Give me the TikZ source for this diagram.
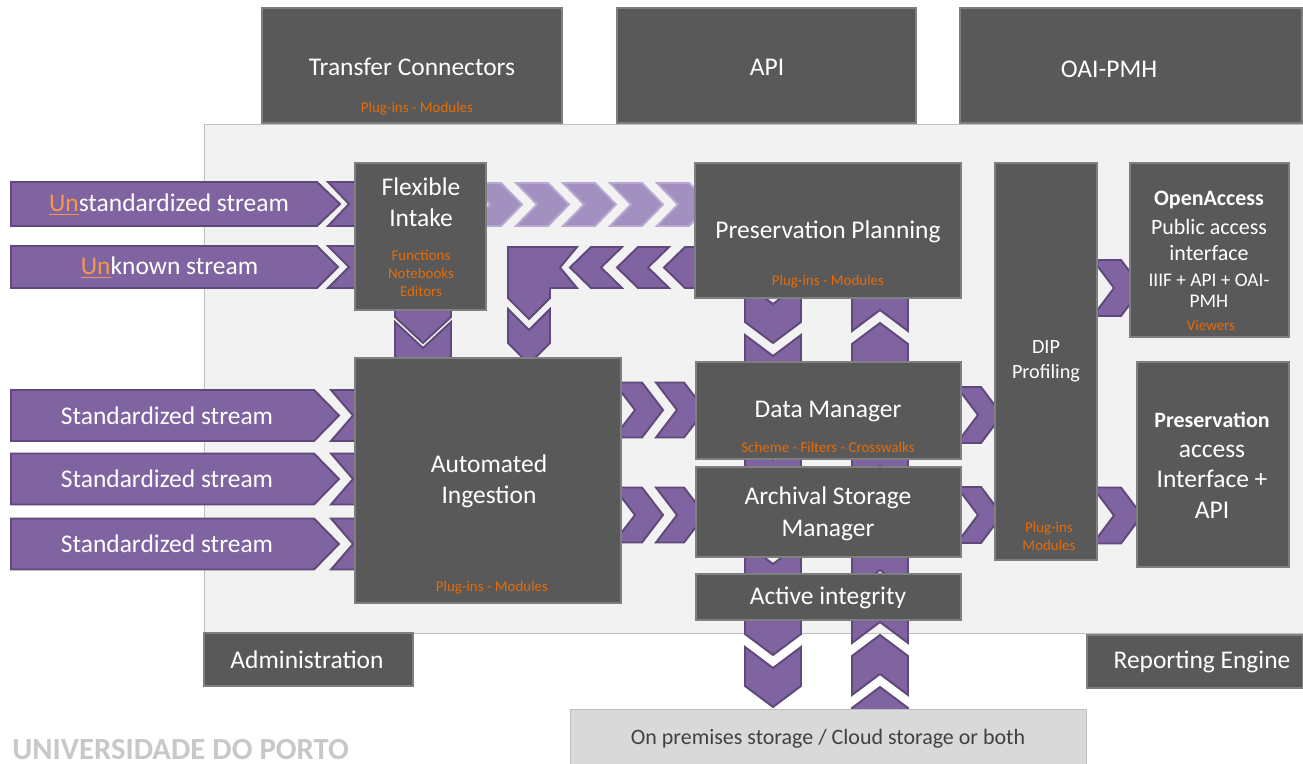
\documentclass[tikz,border=0pt]{standalone}
\usepackage{fontspec}
\setmainfont{Carlito}
\usetikzlibrary{fit}
\definecolor{boxgray}{HTML}{595959}
\definecolor{boxline}{HTML}{7F7F7F}
\definecolor{panelfill}{HTML}{F2F2F2}
\definecolor{panelline}{HTML}{BFBFBF}
\definecolor{purpfill}{HTML}{8064A2}
\definecolor{purpline}{HTML}{5F497A}
\definecolor{lpurpfill}{HTML}{A190C0}
\definecolor{lpurpline}{HTML}{B8A9D2}
\definecolor{orng}{HTML}{E46C0A}
\definecolor{unorng}{HTML}{F79646}
\definecolor{storefill}{HTML}{D9D9D9}
\definecolor{storetext}{HTML}{404040}
\definecolor{uptext}{HTML}{C8C8C8}

\begin{document}
\begin{tikzpicture}[x=0.02cm,y=-0.02cm,
	box/.style={fill=boxgray,draw=boxline,line width=0.7pt,inner sep=0pt},
	lbl/.style={text=white,font=\fontsize{14.5}{17.6}\selectfont,align=center,inner sep=0pt},
	sub/.style={text=orng,font=\fontsize{8.5}{10.2}\selectfont,align=center,inner sep=0pt},
	purp/.style={fill=purpfill,draw=purpline,line width=1.1pt},
	lpurp/.style={fill=lpurpfill,draw=lpurpline,line width=1.1pt},
	pics/chev/.style n args={4}{code={\filldraw[#4] (0,-#1) -- (#3-#2,-#1) -- (#3,0) -- (#3-#2,#1) -- (0,#1) -- (#2,0) -- cycle;}}]

	\useasboundingbox (0,0) rectangle (1303,764);

	\node[fill=panelfill,draw=panelline,line width=0.5pt,inner sep=0pt,fit={(204,124) (1303,633)}] (panel) {};

	\node[box,fit={(262,8) (562,123)}] (tc) {};
	\node[box,fit={(617,8) (916,123)}] (api) {};
	\node[box,fit={(960,8) (1302,123)}] (oai) {};

	% chevrons between the modules
	\foreach \x in {469,516,...,657} \pic at (\x,204.5) {chev={21.5}{21}{53}{lpurp}};
	\foreach \x in {622,669,716} \pic[rotate=180] at (\x,267.5) {chev={20.5}{21}{52}{purp}};
	\filldraw[purp] (508,247) -- (577,247) -- (560,267.5) -- (577,288) -- (550,288) -- (550,298) -- (529,319) -- (508,298) -- cycle;
	\pic[rotate=-90] at (529,309) {chev={21}{21}{55}{purp}};
	\pic[rotate=-90] at (423,280) {chev={28}{26}{63}{purp}};
	\pic[rotate=-90] at (423,322) {chev={28}{26}{60}{purp}};
	\foreach \y in {410,515} \foreach \x in {614,656} \pic at (\x,\y) {chev={27.5}{21}{49}{purp}};
	\foreach \y in {283,335,...,647} \pic[rotate=-90] at (773,\y) {chev={28}{21}{60}{purp}};
	\foreach \y in {331,383,...,747} \pic[rotate=90] at (880,\y) {chev={28}{21}{60}{purp}};
	\foreach \y in {415,515} \pic at (957,\y) {chev={28}{21}{45}{purp}};
	\pic at (1093,288) {chev={28}{21}{49}{purp}};
	\pic at (1093,515.5) {chev={28}{21}{49}{purp}};

	% streams
	\pic at (328,204) {chev={22}{21}{55}{purp}};
	\pic at (328,267) {chev={21}{21}{55}{purp}};
	\filldraw[purp] (11,182) -- (317,182) -- (340,204) -- (317,226) -- (11,226) -- cycle;
	\filldraw[purp] (11,246) -- (317,246) -- (338,267) -- (317,288) -- (11,288) -- cycle;
	\node[lbl] (s1) at (169,205) {{\color{unorng}\underline{Un}}standardized stream};
	\node[lbl] (s2) at (169.5,268) {{\color{unorng}\underline{Un}}known stream};
	\foreach \y/\n in {415.5/s3,479/s4,544/s5} {
		\pic at (331,\y) {chev={25.5}{22}{55}{purp}};
		\filldraw[purp] (11,\y-25.5) -- (314,\y-25.5) -- (339,\y) -- (314,\y+25.5) -- (11,\y+25.5) -- cycle;
		\node[lbl] (\n) at (167,\y) {Standardized stream};
	}

	\node[box,fit={(355,163) (486,310)}] (fi) {};
	\node[box,fit={(695,163) (961,298)}] (pp) {};
	\node[box,fit={(995,163) (1097,560)}] (dip) {};
	\node[box,fit={(1130,163) (1289,337)}] (oa) {};
	\node[box,fit={(355,358) (621,603)}] (ai) {};
	\node[box,fit={(696,362) (961,459)}] (dm) {};
	\node[box,fit={(696,467) (961,557)}] (asm) {};
	\node[box,fit={(696,574) (961,620)}] (aint) {};
	\node[box,fit={(1137,362) (1289,567)}] (pa) {};
	\node[box,fit={(204,633) (413,686)}] (adm) {};
	\node[box,fit={(1087,635) (1303,688)}] (rep) {};
	\node[fill=storefill,draw=panelline,line width=0.5pt,inner sep=0pt,fit={(570,709) (1086,770)}] (sto) {};

	\node[lbl] (tc-t) at (412,67) {Transfer Connectors};
	\node[sub] (tc-s) at (417,109) {Plug-ins - Modules};
	\node[lbl] (api-t) at (767,67) {API};
	\node[lbl] (oai-t) at (1109,69) {OAI-PMH};
	\node[lbl] (fi-t) at (421,202.5) {Flexible\\Intake};
	\node[sub] (fi-s) at (421,273) {Functions\\Notebooks\\Editors};
	\node[lbl] (pp-t) at (828,232) {Preservation Planning};
	\node[sub] (pp-s) at (828,282) {Plug-ins - Modules};
	\node[lbl,font=\bfseries\fontsize{12.5}{15}\selectfont] (oa-t) at (1209,200) {OpenAccess};
	\node[lbl,font=\fontsize{12.5}{14.7}\selectfont] (oa-a) at (1209,240) {Public access\\interface};
	\node[lbl,font=\fontsize{11}{12}\selectfont] (oa-b) at (1209,290.5) {IIIF + API + OAI-\\PMH};
	\node[sub] (oa-s) at (1211,325) {Viewers};
	\node[lbl,font=\fontsize{11.5}{14.2}\selectfont] (dip-t) at (1046,361.5) {DIP\\Profiling};
	\node[sub] (dip-s) at (1049,536) {Plug-ins\\Modules};
	\node[lbl] (ai-t) at (489,481.5) {Automated\\Ingestion};
	\node[sub] (ai-s) at (492,588) {Plug-ins - Modules};
	\node[lbl] (dm-t) at (828,412) {Data Manager};
	\node[sub] (dm-s) at (828,447) {Scheme - Filters - Crosswalks};
	\node[lbl,font=\fontsize{14.5}{18.1}\selectfont] (asm-t) at (828,514) {Archival Storage\\Manager};
	\node[lbl] (aint-t) at (828,598) {Active integrity};
	\node[lbl,font=\bfseries\fontsize{12.5}{15}\selectfont] (pa-t) at (1212,420) {Preservation};
	\node[lbl,font=\fontsize{14.5}{17.3}\selectfont] (pa-a) at (1212,481.5) {access\\Interface +\\API};
	\node[lbl] (adm-t) at (307,660) {Administration};
	\node[lbl] (rep-t) at (1202,662) {Reporting Engine};
	\node[lbl,text=storetext,font=\fontsize{12.5}{15}\selectfont] (sto-t) at (828,739) {On premises storage / Cloud storage or both};
	\node[anchor=base west,inner sep=0pt,text=uptext,font=\bfseries\fontsize{17.5}{20}\selectfont] (up) at (12,759) {UNIVERSIDADE DO PORTO};
\end{tikzpicture}
\end{document}
